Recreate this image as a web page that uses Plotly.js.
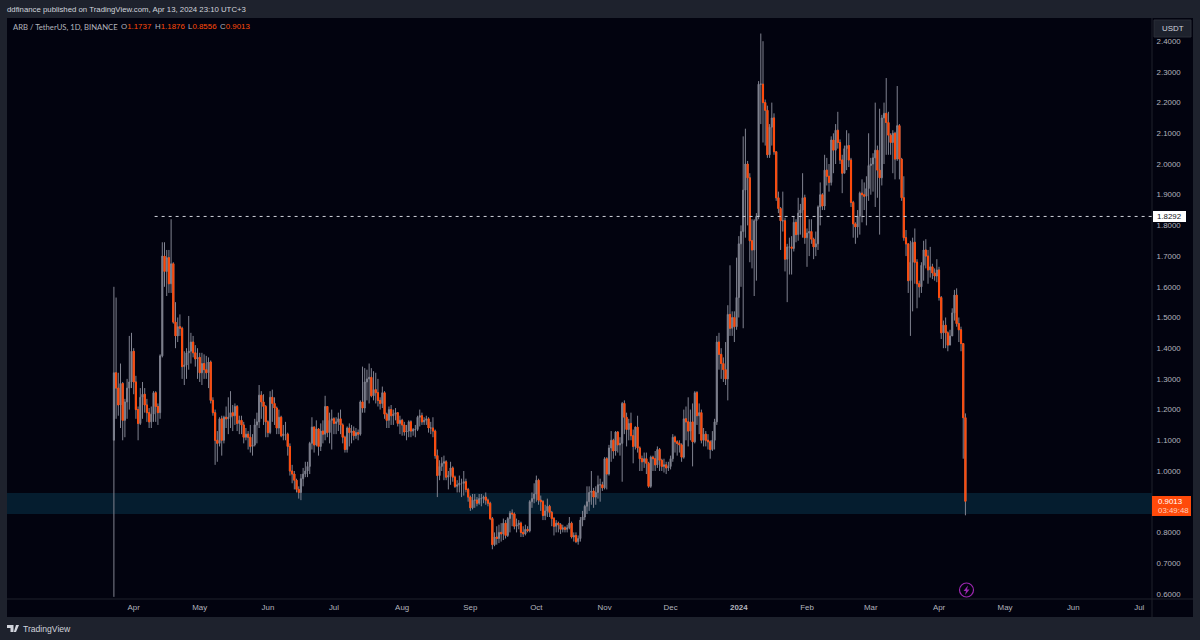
<!DOCTYPE html>
<html><head><meta charset="utf-8">
<script src="https://cdn.plot.ly/plotly-3.0.1.min.js"></script>
<style>html,body{margin:0;padding:0;background:#1e222d}#chart{width:1200px;height:640px}</style>
</head><body><div id="chart"></div>
<script>
// ARB / TetherUS daily candles, first bar 2023-03-23
const firstDay = '2023-03-23';
const firstOpen = 1.10;
const closes = [
1.32,1.27,1.215,1.285,1.165,1.225,1.27,1.29,1.39,1.29,
1.20,1.155,1.24,1.25,1.215,1.19,1.16,1.185,1.255,1.21,
1.19,1.375,1.70,1.65,1.695,1.61,1.675,1.485,1.44,1.47,
1.465,1.34,1.345,1.385,1.39,1.42,1.385,1.365,1.37,1.32,
1.35,1.33,1.32,1.355,1.23,1.19,1.10,1.09,1.17,1.10,
1.175,1.17,1.175,1.19,1.18,1.21,1.155,1.165,1.15,1.11,
1.12,1.11,1.08,1.085,1.15,1.16,1.247,1.225,1.21,1.16,
1.125,1.24,1.22,1.205,1.14,1.175,1.115,1.12,1.12,1.08,
1.00,0.99,0.97,0.94,0.93,0.975,0.99,1.00,1.015,1.09,
1.143,1.085,1.137,1.08,1.13,1.12,1.21,1.125,1.165,1.17,
1.155,1.16,1.17,1.15,1.11,1.07,1.14,1.125,1.13,1.115,
1.125,1.12,1.225,1.205,1.29,1.30,1.305,1.245,1.265,1.255,
1.23,1.22,1.255,1.185,1.165,1.20,1.18,1.185,1.19,1.155,
1.165,1.15,1.127,1.13,1.16,1.13,1.135,1.135,1.175,1.18,
1.16,1.165,1.17,1.14,1.14,1.13,1.05,0.985,1.015,1.025,
1.03,0.98,0.985,1.01,0.98,0.95,0.955,0.96,0.96,0.965,
0.94,0.915,0.88,0.905,0.905,0.895,0.91,0.91,0.915,0.905,
0.895,0.845,0.76,0.785,0.78,0.80,0.795,0.83,0.79,0.845,
0.863,0.86,0.82,0.825,0.83,0.80,0.795,0.81,0.805,0.90,
0.91,0.925,0.97,0.905,0.90,0.855,0.87,0.885,0.865,0.845,
0.82,0.83,0.825,0.81,0.815,0.81,0.815,0.83,0.785,0.79,
0.77,0.78,0.84,0.85,0.885,0.90,0.93,0.935,0.915,0.93,
0.955,0.955,0.945,1.04,0.99,1.075,1.10,1.065,1.127,1.085,
1.09,1.22,1.175,1.135,1.155,1.115,1.08,1.143,1.075,1.04,
1.03,1.04,1.025,0.95,1.045,1.04,1.02,1.07,1.035,1.015,
1.02,1.01,1.015,1.04,1.11,1.095,1.09,1.085,1.045,1.17,
1.16,1.13,1.16,1.095,1.255,1.18,1.19,1.10,1.12,1.10,
1.095,1.07,1.10,1.16,1.42,1.38,1.35,1.33,1.30,1.51,
1.465,1.50,1.47,1.565,1.74,1.78,1.915,2.00,1.955,1.75,
1.72,1.815,1.83,2.26,2.26,2.20,2.175,2.03,2.12,2.15,
2.04,1.89,1.855,1.815,1.815,1.69,1.73,1.73,1.725,1.81,
1.77,1.84,1.85,1.89,1.76,1.775,1.78,1.755,1.73,1.74,
1.86,1.90,1.863,1.98,1.96,1.94,2.078,2.045,2.11,2.07,
2.013,1.97,2.05,2.06,2.013,1.875,1.805,1.795,1.83,1.905,
1.90,1.895,1.92,1.995,2.00,2.02,2.045,1.98,1.955,2.15,
2.165,2.135,2.094,2.07,2.10,2.016,2.125,2.016,1.89,1.76,
1.74,1.62,1.68,1.745,1.68,1.61,1.60,1.67,1.72,1.70,
1.655,1.665,1.645,1.635,1.655,1.565,1.45,1.475,1.45,1.41,
1.44,1.515,1.573,1.48,1.46,1.415,1.1737,0.9013];
const highs = [
1.60,1.565,1.32,1.35,1.29,1.235,1.30,1.44,1.45,1.40,
1.31,1.21,1.27,1.29,1.27,1.235,1.205,1.21,1.26,1.26,
1.22,1.38,1.745,1.745,1.72,1.72,1.82,1.68,1.55,1.50,
1.51,1.47,1.39,1.40,1.505,1.45,1.44,1.41,1.40,1.385,
1.385,1.38,1.375,1.37,1.36,1.24,1.20,1.13,1.175,1.18,
1.18,1.21,1.24,1.26,1.215,1.22,1.215,1.18,1.18,1.16,
1.14,1.13,1.15,1.12,1.17,1.19,1.28,1.26,1.25,1.215,
1.165,1.26,1.265,1.24,1.21,1.20,1.18,1.15,1.16,1.125,
1.09,1.02,1.00,0.975,0.95,0.99,1.01,1.03,1.03,1.095,
1.175,1.145,1.165,1.14,1.155,1.165,1.245,1.21,1.19,1.20,
1.175,1.175,1.19,1.20,1.155,1.115,1.145,1.155,1.15,1.145,
1.14,1.135,1.23,1.34,1.335,1.33,1.35,1.335,1.325,1.32,
1.30,1.24,1.275,1.26,1.19,1.21,1.215,1.20,1.205,1.19,
1.18,1.17,1.16,1.15,1.165,1.165,1.14,1.15,1.18,1.20,
1.19,1.175,1.18,1.175,1.16,1.175,1.135,1.07,1.035,1.045,
1.05,1.035,1.00,1.03,1.015,0.985,0.97,0.985,0.975,1.00,
0.975,0.945,0.92,0.925,0.925,0.915,0.925,0.925,0.92,0.93,
0.91,0.90,0.85,0.80,0.82,0.825,0.83,0.845,0.84,0.85,
0.87,0.875,0.865,0.845,0.84,0.835,0.82,0.825,0.82,0.905,
0.93,0.96,0.985,0.975,0.92,0.905,0.89,0.91,0.89,0.87,
0.85,0.84,0.835,0.83,0.825,0.82,0.825,0.85,0.835,0.80,
0.80,0.79,0.85,0.87,0.89,0.95,0.95,1.00,0.945,0.95,
0.985,0.975,0.965,1.045,1.045,1.085,1.13,1.105,1.13,1.13,
1.11,1.225,1.23,1.19,1.17,1.19,1.135,1.145,1.18,1.08,
1.05,1.06,1.06,1.03,1.05,1.05,1.065,1.08,1.075,1.04,
1.04,1.03,1.03,1.05,1.12,1.115,1.10,1.10,1.09,1.20,
1.21,1.24,1.20,1.22,1.26,1.26,1.22,1.20,1.14,1.13,
1.12,1.10,1.13,1.17,1.44,1.45,1.40,1.37,1.42,1.54,
1.67,1.52,1.52,1.695,1.765,1.80,2.09,2.115,2.01,1.97,
1.82,1.82,1.84,2.27,2.425,2.40,2.21,2.19,2.13,2.20,
2.165,2.04,1.91,1.86,1.91,1.825,1.74,1.76,1.765,1.83,
1.82,1.89,1.87,1.97,1.90,1.79,1.82,1.82,1.76,1.78,
1.865,1.94,1.905,2.03,2.02,2.00,2.09,2.10,2.13,2.17,
2.08,2.03,2.06,2.11,2.10,2.02,1.88,1.81,1.85,1.91,
1.95,1.94,1.96,2.10,2.02,2.035,2.20,2.06,2.18,2.16,
2.20,2.28,2.17,2.10,2.11,2.105,2.254,2.13,2.02,1.96,
1.785,1.74,1.75,1.76,1.79,1.69,1.62,1.68,1.75,1.755,
1.72,1.73,1.675,1.66,1.69,1.665,1.57,1.49,1.50,1.455,
1.46,1.53,1.59,1.595,1.50,1.47,1.415,1.1876];
const lows = [
0.59,1.17,1.18,1.14,1.10,1.11,1.17,1.20,1.27,1.25,
1.17,1.10,1.15,1.17,1.19,1.16,1.14,1.14,1.16,1.16,
1.15,1.17,1.37,1.60,1.57,1.58,1.58,1.48,1.40,1.42,
1.44,1.30,1.28,1.30,1.33,1.35,1.37,1.34,1.30,1.29,
1.28,1.30,1.30,1.27,1.22,1.18,1.02,1.03,1.08,1.05,
1.09,1.14,1.12,1.14,1.13,1.15,1.13,1.12,1.12,1.09,
1.10,1.07,1.06,1.05,1.08,1.09,1.14,1.17,1.15,1.11,
1.11,1.12,1.16,1.15,1.12,1.12,1.11,1.10,1.10,1.05,
0.985,0.96,0.94,0.93,0.91,0.905,0.95,0.98,0.98,0.99,
1.07,1.06,1.08,1.05,1.065,1.09,1.10,1.11,1.09,1.07,
1.12,1.12,1.13,1.12,1.09,1.06,1.06,1.08,1.09,1.10,
1.105,1.10,1.115,1.19,1.19,1.23,1.22,1.24,1.23,1.22,
1.21,1.20,1.205,1.17,1.14,1.14,1.15,1.15,1.165,1.145,
1.12,1.115,1.115,1.10,1.11,1.11,1.115,1.11,1.13,1.145,
1.15,1.15,1.15,1.125,1.12,1.11,1.04,0.915,0.97,1.00,
0.97,0.97,0.94,0.955,0.965,0.945,0.93,0.93,0.915,0.92,
0.93,0.90,0.87,0.875,0.88,0.885,0.89,0.885,0.895,0.89,
0.885,0.84,0.745,0.755,0.76,0.765,0.77,0.775,0.78,0.785,
0.80,0.82,0.81,0.80,0.81,0.785,0.785,0.79,0.80,0.80,
0.88,0.895,0.90,0.89,0.87,0.84,0.84,0.85,0.85,0.82,
0.79,0.80,0.80,0.795,0.80,0.80,0.80,0.81,0.78,0.77,
0.765,0.76,0.77,0.82,0.84,0.86,0.87,0.89,0.88,0.89,
0.91,0.90,0.935,0.94,0.94,0.985,1.03,1.04,1.05,1.06,
1.05,0.965,1.12,1.08,1.10,1.10,1.025,1.07,1.06,1.00,
1.00,1.01,0.99,0.945,0.945,1.00,1.00,1.01,1.00,1.00,
0.995,0.99,1.00,1.005,1.03,1.06,1.05,1.06,1.03,1.04,
1.10,1.08,1.10,1.015,1.09,1.15,1.12,1.09,1.08,1.08,
1.07,1.04,1.065,1.07,1.15,1.33,1.30,1.29,1.28,1.23,
1.44,1.44,1.42,1.46,1.50,1.60,1.465,1.76,1.80,1.68,
1.66,1.57,1.62,1.82,2.13,2.07,2.06,2.02,2.02,2.06,
2.03,1.88,1.84,1.72,1.78,1.65,1.55,1.64,1.64,1.715,
1.745,1.75,1.77,1.76,1.74,1.665,1.70,1.74,1.69,1.70,
1.72,1.80,1.85,1.85,1.93,1.91,1.93,1.97,2.00,2.05,
2.00,1.905,1.97,1.98,1.99,1.86,1.76,1.74,1.76,1.77,
1.81,1.85,1.80,1.88,1.90,1.91,1.86,1.89,1.77,1.93,
2.00,2.03,2.03,2.03,1.97,1.95,2.01,1.95,1.88,1.75,
1.70,1.58,1.44,1.52,1.61,1.53,1.565,1.58,1.62,1.66,
1.61,1.63,1.625,1.62,1.615,1.555,1.43,1.40,1.40,1.39,
1.41,1.44,1.49,1.47,1.42,1.39,1.04,0.8556];

const monthTickDates = ['2023-04-01','2023-05-01','2023-06-01','2023-07-01','2023-08-01','2023-09-01','2023-10-01','2023-11-01','2023-12-01','2024-01-01','2024-02-01','2024-03-01','2024-04-01','2024-05-01','2024-06-01','2024-07-01'];
const monthTickLabels = ['Apr','May','Jun','Jul','Aug','Sep','Oct','Nov','Dec','<b>2024</b>','Feb','Mar','Apr','May','Jun','Jul'];
const priceTicks = [0.6,0.7,0.8,0.9,1.0,1.1,1.2,1.3,1.4,1.5,1.6,1.7,1.8,1.9,2.0,2.1,2.2,2.3,2.4];
const levelPrice = 1.8292;
const zoneLow = 0.86, zoneHigh = 0.928;

const start = Date.parse(firstDay + 'T00:00:00Z');
const days = closes.map((_, i) => new Date(start + i * 86400000).toISOString().slice(0, 10));
const opens = closes.map((_, i) => i === 0 ? firstOpen : closes[i - 1]);
const fallingBars = closes.map((c, i) => i).filter(i => closes[i] < opens[i]);

const L = 7, R = 1152, T = 18, B = 599, W = 1200, H = 640;
const px = x => (x - L) / (R - L);
const py = y => (B - y) / (B - T);
const FONT = '"Liberation Sans", Arial, sans-serif';
const ORANGE = '#ff4a0a', GREY = '#808390', TXT = '#b2b5be';
const FS = 7.9;

function rect(x0, y0, x1, y1, fill, line, layer) {
  return {type:'rect', xref:'paper', yref:'paper', x0:px(x0), x1:px(x1), y0:py(y1), y1:py(y0),
    fillcolor:fill, line:line || {width:0}, layer:layer || 'below'};
}
function note(x, y, text, color, size, anchor, family) {
  return {xref:'paper', yref:'paper', x:px(x), y:py(y), text:text, showarrow:false,
    xanchor:anchor || 'left', yanchor:'middle', borderpad:0, font:{family:family || FONT, size:size, color:color}};
}
function poly(points, fill) {
  return {type:'path', xref:'paper', yref:'paper', layer:'above', fillcolor:fill, line:{width:0},
    path:'M' + points.map(p => px(p[0]) + ',' + py(p[1])).join('L') + 'Z'};
}

// every bar with grey wick and body
const allBars = {
  type:'candlestick', x:days, open:opens, high:highs, low:lows, close:closes,
  increasing:{line:{color:GREY, width:1}, fillcolor:GREY},
  decreasing:{line:{color:GREY, width:1}, fillcolor:GREY},
  whiskerwidth:0, hoverinfo:'skip', showlegend:false
};
// orange bodies of the falling bars, wicks stay grey
const fallingBodies = {
  type:'candlestick',
  x:fallingBars.map(i => days[i]),
  open:fallingBars.map(i => opens[i]),
  high:fallingBars.map(i => opens[i]),
  low:fallingBars.map(i => closes[i]),
  close:fallingBars.map(i => closes[i]),
  decreasing:{line:{color:ORANGE, width:1}, fillcolor:ORANGE},
  increasing:{line:{color:ORANGE, width:1}, fillcolor:ORANGE},
  whiskerwidth:0, hoverinfo:'skip', showlegend:false
};

const layout = {
  width:W, height:H, autosize:false,
  paper_bgcolor:'#1e222d', plot_bgcolor:'rgba(0,0,0,0)',
  margin:{l:L, r:W-R, t:T, b:H-B, pad:0},
  showlegend:false, dragmode:false,
  title:{text:'ddfinance published on TradingView.com, Apr 13, 2024 23:10 UTC+3',
    x:0, xanchor:'left', xref:'paper', y:1-9/H, yanchor:'middle', automargin:false,
    font:{family:FONT, size:7.8, color:'#d1d4dc'}},
  xaxis:{type:'date', range:['2023-02-02 10:00','2024-07-06 19:00'], rangeslider:{visible:false},
    tickmode:'array', tickvals:monthTickDates, ticktext:monthTickLabels, showgrid:false, zeroline:false,
    ticks:'outside', ticklen:1, tickcolor:'rgba(0,0,0,0)', showline:false,
    tickfont:{family:FONT, size:FS, color:TXT}},
  yaxis:{side:'right', range:[0.583,2.4756], tickmode:'array', tickvals:priceTicks,
    ticktext:priceTicks.map(v => v.toFixed(4)), showgrid:false, zeroline:false, showline:false,
    ticks:'outside', ticklen:2, tickcolor:'rgba(0,0,0,0)',
    tickfont:{family:FONT, size:FS, color:TXT}},
  shapes:[
    rect(7, 18, 1193, 617, '#02030f'),
    {type:'rect', xref:'paper', yref:'y', x0:0, x1:1, y0:zoneLow, y1:zoneHigh, fillcolor:'#051d2f', line:{width:0}, layer:'below'},
    {type:'line', xref:'paper', yref:'paper', x0:1, x1:1, y0:py(18), y1:py(617), line:{color:'#1e222d', width:1}, layer:'below'},
    {type:'line', xref:'paper', yref:'paper', x0:0, x1:px(1193), y0:0, y1:0, line:{color:'#1e222d', width:1}, layer:'below'},
    {type:'line', xref:'x', yref:'y', x0:'2023-04-10 12:00', x1:'2024-07-06 19:00', y0:levelPrice, y1:levelPrice,
      line:{color:'#d1d4dc', width:1, dash:'3px,4px'}, layer:'above'},
    rect(1154, 20, 1191, 37, '#1e222d', {color:'#2a2e39', width:1}, 'above'),
    rect(1153, 211, 1186, 222, '#ffffff', {width:0}, 'above'),
    rect(1152, 496, 1191, 516, ORANGE, {width:0}, 'above'),
    {type:'circle', xref:'paper', yref:'paper', x0:px(959.5), x1:px(973.5), y0:py(597), y1:py(583),
      line:{color:'#9c27b0', width:1.2}, fillcolor:'rgba(0,0,0,0)', layer:'above'},
    poly([[968,585.5],[963.5,591],[966,591],[965,595],[969.5,589.5],[967,589.5]], '#9c27b0'),
    poly([[7,625],[13.5,625],[13.5,632],[10.5,632],[10.5,628],[7,628]], '#d1d4dc'),
    poly([[16,625],[19,625],[16,632],[13.8,632]], '#d1d4dc')
  ],
  annotations:[
    note(12, 27, 'ARB / TetherUS, 1D, BINANCE', TXT, 7.7, 'left', 'Lato, sans-serif'),
    note(120, 27, '<span style="color:#b2b5be">O</span>1.1737', ORANGE, FS),
    note(154, 27, '<span style="color:#b2b5be">H</span>1.1876', ORANGE, FS),
    note(187, 27, '<span style="color:#b2b5be">L</span>0.8556', ORANGE, FS),
    note(219, 27, '<span style="color:#b2b5be">C</span>0.9013', ORANGE, FS),
    note(1172.5, 28.5, 'USDT', '#d1d4dc', FS, 'center'),
    note(1156, 216.5, levelPrice.toFixed(4), '#131722', FS),
    note(1157, 501, closes[closes.length-1].toFixed(4), '#ffffff', FS),
    note(1157, 510, '03:49:48', '#ffd0bd', FS),
    note(22, 628.5, 'TradingView', '#d1d4dc', 8.6)
  ]
};

Plotly.newPlot('chart', [allBars, fallingBodies], layout, {staticPlot:true, displayModeBar:false});
</script></body></html>
